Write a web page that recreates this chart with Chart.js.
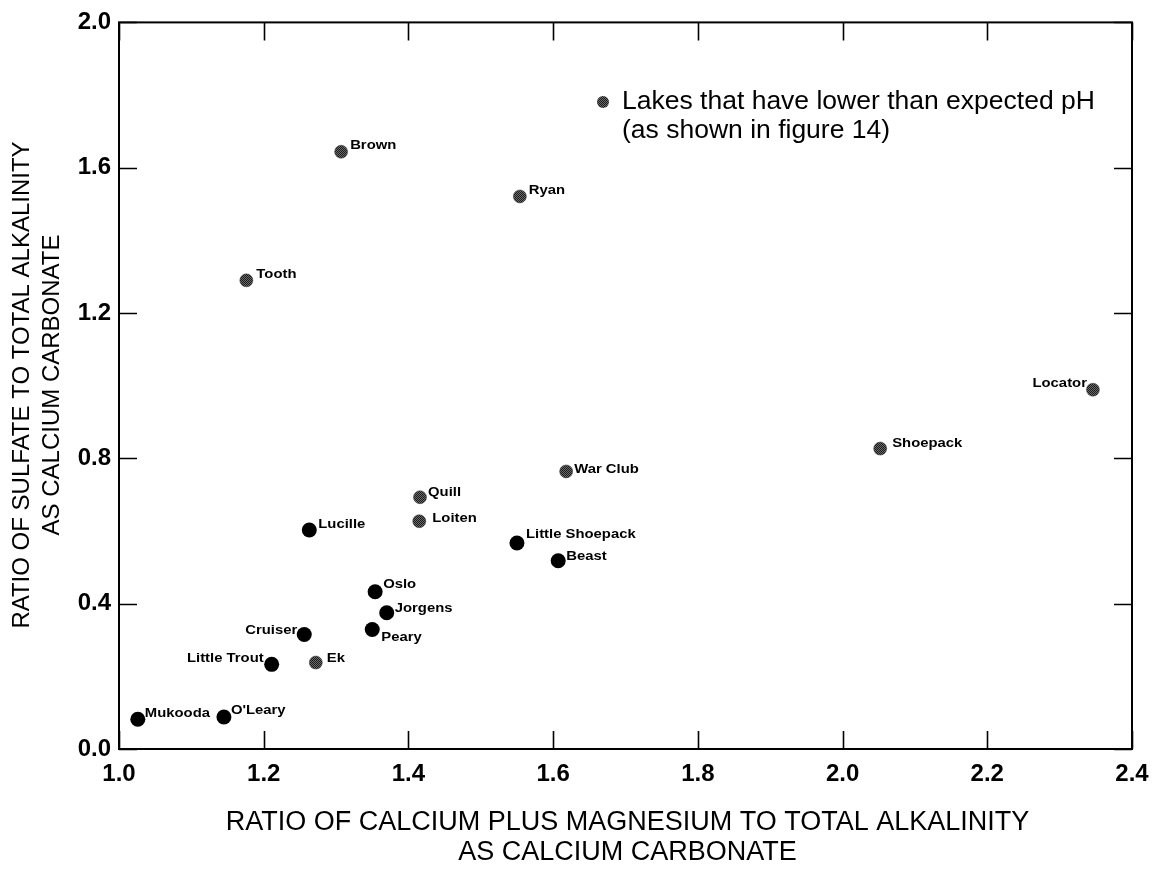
<!DOCTYPE html>
<html>
<head>
<meta charset="utf-8">
<title>Sulfate vs calcium plus magnesium ratios</title>
<script src="https://cdn.jsdelivr.net/npm/chart.js@4.4.1/dist/chart.umd.min.js"></script>
<style>
    html, body { margin: 0; padding: 0; background: #fff; }
    #wrap { width: 1160px; height: 884px; position: relative; }
</style>
</head>
<body>
<div id="wrap"><canvas id="lakeChart" width="1160" height="884"></canvas></div>
<script>
// lake ratios, both as calcium carbonate
const lakeNames = ['Brown', 'Ryan', 'Tooth', 'Locator', 'Shoepack', 'War Club', 'Quill', 'Loiten', 'Lucille',
    'Little Shoepack', 'Beast', 'Oslo', 'Jorgens', 'Peary', 'Cruiser', 'Little Trout', 'Ek', 'Mukooda', "O'Leary"];
const caMgRatio = [1.307, 1.554, 1.176, 2.346, 2.052, 1.618, 1.416, 1.415, 1.263,
    1.550, 1.607, 1.354, 1.370, 1.350, 1.256, 1.211, 1.272, 1.026, 1.145];
const sulfateRatio = [1.644, 1.521, 1.290, 0.989, 0.827, 0.764, 0.693, 0.627, 0.603,
    0.567, 0.518, 0.433, 0.375, 0.329, 0.315, 0.233, 0.238, 0.082, 0.088];
// lakes with lower than expected pH
const lowPh = [true, true, true, true, true, true, true, true, false,
    false, false, false, false, false, false, false, true, false, false];

const xTicks = [1.0, 1.2, 1.4, 1.6, 1.8, 2.0, 2.2, 2.4];
const yTicks = [0.0, 0.4, 0.8, 1.2, 1.6, 2.0];

const xTitle = ['RATIO OF CALCIUM PLUS MAGNESIUM TO TOTAL ALKALINITY', 'AS CALCIUM CARBONATE'];
const yTitle = ['RATIO OF SULFATE TO TOTAL ALKALINITY', 'AS CALCIUM CARBONATE'];
const legendLines = ['Lakes that have lower than expected pH', '(as shown in figure 14)'];

// where each name sits next to its dot
const labelPlacement = {
    'Brown': { dx: 9, dy: -6 },
    'Ryan': { dx: 9, dy: -6 },
    'Tooth': { dx: 10, dy: -6 },
    'Locator': { dx: -6, dy: -6, right: true },
    'Shoepack': { dx: 12, dy: -5 },
    'War Club': { dx: 8, dy: -2 },
    'Quill': { dx: 8, dy: -5 },
    'Loiten': { dx: 13, dy: -3 },
    'Lucille': { dx: 9, dy: -6 },
    'Little Shoepack': { dx: 9, dy: -9 },
    'Beast': { dx: 8, dy: -5 },
    'Oslo': { dx: 8, dy: -7 },
    'Jorgens': { dx: 8, dy: -4 },
    'Peary': { dx: 9, dy: 8 },
    'Cruiser': { dx: -7, dy: -4, right: true },
    'Little Trout': { dx: -8, dy: -6, right: true },
    'Ek': { dx: 11, dy: -4 },
    'Mukooda': { dx: 7, dy: -6 },
    "O'Leary": { dx: 7, dy: -7 },
};

const FONT = "'Liberation Sans', Arial, Helvetica, sans-serif";

function stipple() {
    const c = document.createElement('canvas');
    c.width = 2; c.height = 2;
    const g = c.getContext('2d');
    g.fillStyle = '#6a6a6a';
    g.fillRect(0, 0, 2, 2);
    g.fillStyle = '#1a1a1a';
    g.fillRect(0, 0, 1, 1);
    g.fillRect(1, 1, 1, 1);
    return g.createPattern(c, 'repeat');
}
const grey = stipple();

function points(flag) {
    const out = [];
    lakeNames.forEach((name, i) => {
        if (lowPh[i] === flag) out.push({ x: caMgRatio[i], y: sulfateRatio[i], name });
    });
    return out;
}

const frameAndTicks = {
    id: 'frameAndTicks',
    beforeDatasetsDraw(chart) {
        const { ctx, chartArea: a, scales } = chart;
        const len = 18;
        ctx.save();
        ctx.strokeStyle = '#000';
        ctx.lineWidth = 1.6;
        ctx.beginPath();
        xTicks.forEach((v) => {
            const px = Math.round(scales.x.getPixelForValue(v)) + 0.5;
            ctx.moveTo(px, a.bottom); ctx.lineTo(px, a.bottom - len);
            ctx.moveTo(px, a.top); ctx.lineTo(px, a.top + len);
        });
        yTicks.forEach((v) => {
            const py = Math.round(scales.y.getPixelForValue(v)) + 0.5;
            ctx.moveTo(a.left, py); ctx.lineTo(a.left + len, py);
            ctx.moveTo(a.right, py); ctx.lineTo(a.right - len, py);
        });
        ctx.stroke();
        ctx.lineWidth = 2;
        ctx.strokeRect(a.left, a.top, a.right - a.left, a.bottom - a.top);
        ctx.restore();
    },
};

const lakeLabels = {
    id: 'lakeLabels',
    afterDatasetsDraw(chart) {
        const { ctx } = chart;
        ctx.save();
        ctx.fillStyle = '#000';
        ctx.font = `bold 13.5px ${FONT}`;
        ctx.textBaseline = 'middle';
        chart.data.datasets.forEach((ds, di) => {
            const meta = chart.getDatasetMeta(di);
            meta.data.forEach((el, i) => {
                const name = ds.data[i].name;
                const p = labelPlacement[name] || { dx: 9, dy: -5 };
                ctx.save();
                ctx.translate(el.x + p.dx, el.y + p.dy);
                ctx.scale(1.1, 1);  // the names are set a little wide
                ctx.textAlign = p.right ? 'right' : 'left';
                ctx.fillText(name, 0, 0);
                ctx.restore();
            });
        });
        ctx.restore();
    },
};

const annotations = {
    id: 'annotations',
    afterDraw(chart) {
        const { ctx, chartArea: a } = chart;
        ctx.save();
        ctx.fillStyle = '#000';
        ctx.textAlign = 'center';
        ctx.textBaseline = 'middle';

        // axis titles
        ctx.font = `27px ${FONT}`;
        const cx = (a.left + a.right) / 2 + 2;
        ctx.fillText(xTitle[0], cx, 823);
        ctx.fillText(xTitle[1], cx, 853);

        ctx.font = `24px ${FONT}`;
        [22, 52].forEach((x, i) => {
            ctx.save();
            ctx.translate(x, 385);
            ctx.rotate(-Math.PI / 2);
            ctx.fillText(yTitle[i], 0, 0);
            ctx.restore();
        });

        // key
        ctx.beginPath();
        ctx.arc(603, 102, 6, 0, Math.PI * 2);
        ctx.fillStyle = grey;
        ctx.fill();
        ctx.fillStyle = '#000';
        ctx.textAlign = 'left';
        ctx.font = `26.5px ${FONT}`;
        ctx.fillText(legendLines[0], 622, 102);
        ctx.fillText(legendLines[1], 622, 131);
        ctx.restore();
    },
};

new Chart(document.getElementById('lakeChart'), {
    type: 'scatter',
    data: {
        datasets: [
            {
                label: 'Lakes',
                data: points(false),
                backgroundColor: '#000',
                borderWidth: 0,
                pointRadius: 7.5,
            },
            {
                label: legendLines[0],
                data: points(true),
                backgroundColor: grey,
                borderColor: '#333',
                borderWidth: 0.5,
                pointRadius: 6.5,
            },
        ],
    },
    options: {
        responsive: false,
        animation: false,
        layout: { padding: { top: 19, right: 28, left: 0, bottom: 0 } },
        plugins: { legend: { display: false }, tooltip: { enabled: false } },
        scales: {
            x: {
                type: 'linear',
                min: 1.0,
                max: 2.4,
                afterBuildTicks: (s) => { s.ticks = xTicks.map((v) => ({ value: v })); },
                afterFit: (s) => { s.height = 884 - 749; },
                grid: { display: false, drawTicks: false },
                border: { display: false },
                ticks: {
                    autoSkip: false,
                    maxRotation: 0,
                    padding: 11,
                    color: '#000',
                    font: { family: FONT, size: 24, weight: 'bold' },
                    callback: (v) => Number(v).toFixed(1),
                },
            },
            y: {
                type: 'linear',
                min: 0,
                max: 2.0,
                afterBuildTicks: (s) => { s.ticks = yTicks.map((v) => ({ value: v })); },
                afterFit: (s) => { s.width = 119; },
                grid: { display: false, drawTicks: false },
                border: { display: false },
                ticks: {
                    autoSkip: false,
                    padding: 8,
                    color: '#000',
                    font: { family: FONT, size: 24, weight: 'bold' },
                    callback: (v) => Number(v).toFixed(1),
                },
            },
        },
    },
    plugins: [frameAndTicks, lakeLabels, annotations],
});
</script>
</body>
</html>
